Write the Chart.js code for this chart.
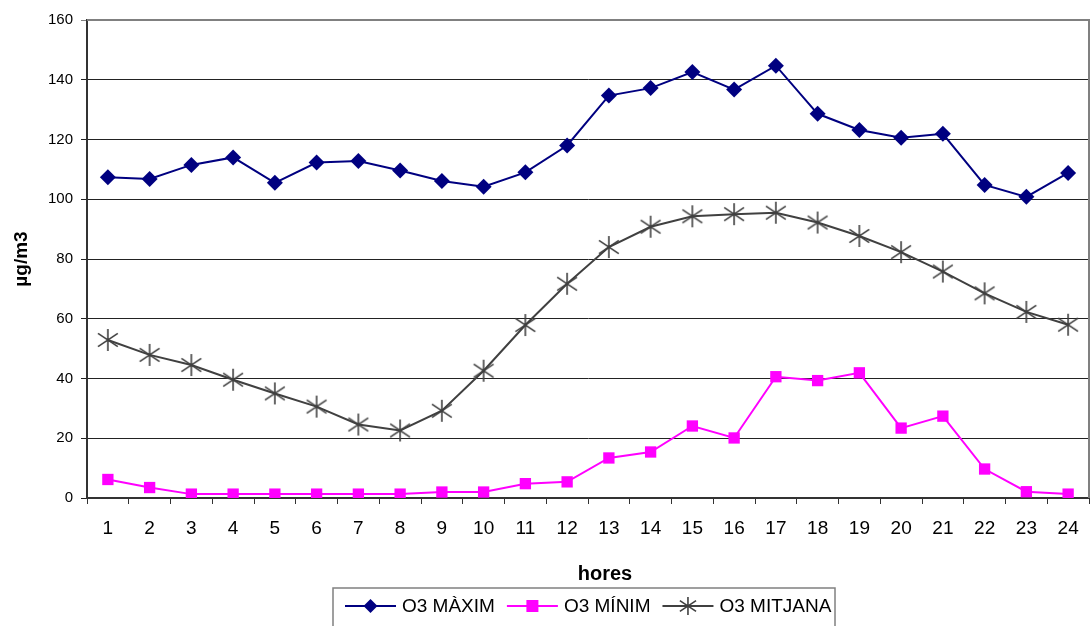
<!DOCTYPE html>
<html lang="ca">
<head>
  <meta charset="UTF-8">
  <title>O3 hores</title>
  <script src="https://cdn.jsdelivr.net/npm/chart.js"></script>
  <style>
    html, body { margin: 0; padding: 0; background: #fff; overflow: hidden; }
    #wrap { width: 1092px; height: 626px; position: relative; }
    canvas { display: block; }
  </style>
</head>
<body>
  <div id="wrap"><canvas id="o3Chart" width="1092" height="626"></canvas></div>

  <script>
    const hores = ['1','2','3','4','5','6','7','8','9','10','11','12','13','14','15','16','17','18','19','20','21','22','23','24'];
    const o3Maxim = [107.4, 106.8, 111.5, 114, 105.5, 112.3, 112.8, 109.6, 106.1, 104.2, 109, 118, 134.7, 137.2, 142.6, 136.7, 144.7, 128.6, 123.2, 120.6, 121.9, 104.8, 100.8, 108.8];
    const o3Minim = [6.2, 3.5, 1.3, 1.3, 1.3, 1.3, 1.3, 1.3, 2, 2, 4.8, 5.4, 13.4, 15.4, 24.1, 20.1, 40.6, 39.3, 41.9, 23.4, 27.4, 9.7, 2.1, 1.3];
    const o3Mitjana = [52.9, 47.9, 44.5, 39.6, 35, 30.6, 24.6, 22.6, 29.2, 42.6, 57.9, 71.7, 84, 90.8, 94.3, 95, 95.5, 92.2, 87.7, 82.3, 75.8, 68.5, 62.3, 58];
    const yTicks = [0, 20, 40, 60, 80, 100, 120, 140, 160];

    const FONT = "Arial, 'Liberation Sans', sans-serif";
    const NAVY = '#000080';
    const MAGENTA = '#ff00ff';
    const GREY = '#404040';

    // Excel style asterisk: vertical bar plus an X
    function drawStar(ctx, x, y, r) {
      ctx.save();
      ctx.strokeStyle = GREY;
      ctx.lineWidth = 1.6;
      ctx.beginPath();
      ctx.moveTo(x, y - r); ctx.lineTo(x, y + r);
      ctx.moveTo(x - r * 0.9, y - r * 0.6); ctx.lineTo(x + r * 0.9, y + r * 0.6);
      ctx.moveTo(x - r * 0.9, y + r * 0.6); ctx.lineTo(x + r * 0.9, y - r * 0.6);
      ctx.stroke();
      ctx.restore();
    }
    const starImg = document.createElement('canvas');
    starImg.width = 24; starImg.height = 24;
    drawStar(starImg.getContext('2d'), 12, 12, 11);

    function drawDiamond(ctx, x, y, r) {
      ctx.fillStyle = NAVY;
      ctx.beginPath();
      ctx.moveTo(x, y - r); ctx.lineTo(x + r, y); ctx.lineTo(x, y + r); ctx.lineTo(x - r, y);
      ctx.closePath(); ctx.fill();
    }
    function drawSquare(ctx, x, y, r) {
      ctx.fillStyle = MAGENTA;
      ctx.fillRect(x - r, y - r, r * 2, r * 2);
    }

    const series = [
      { label: 'O3 MÀXIM', data: o3Maxim, color: NAVY, style: 'rectRot', radius: 8, mark: drawDiamond, mr: 7 },
      { label: 'O3 MÍNIM', data: o3Minim, color: MAGENTA, style: 'rect', radius: 8, mark: drawSquare, mr: 6 },
      { label: 'O3 MITJANA', data: o3Mitjana, color: GREY, style: starImg, radius: 10, mark: drawStar, mr: 9 }
    ];

    // plot frame (grey top/right) drawn under the data
    const framePlugin = {
      id: 'frame',
      beforeDatasetsDraw(chart) {
        const { ctx, chartArea: a } = chart;
        ctx.save();
        ctx.strokeStyle = '#808080';
        ctx.lineWidth = 2;
        ctx.beginPath();
        ctx.moveTo(a.left, a.top);
        ctx.lineTo(a.right, a.top);
        ctx.lineTo(a.right, a.bottom);
        ctx.stroke();
        ctx.restore();
      }
    };

    // x title + legend box at the bottom, line + marker like the original
    const legendPlugin = {
      id: 'boxLegend',
      afterDraw(chart) {
        const ctx = chart.ctx;
        const a = chart.chartArea;
        ctx.save();
        ctx.font = 'bold 20px ' + FONT;
        ctx.textAlign = 'center';
        ctx.textBaseline = 'middle';
        ctx.fillStyle = '#000';
        ctx.fillText('hores', (a.left + a.right) / 2 + 17, 574);

        const boxL = 333, boxT = 588, boxR = 835;
        const cy = 606;
        ctx.strokeStyle = '#808080';
        ctx.lineWidth = 1.5;
        ctx.strokeRect(boxL, boxT, boxR - boxL, 60);
        ctx.font = '19px ' + FONT;
        ctx.textAlign = 'left';
        let x = 345;
        series.forEach(s => {
          ctx.strokeStyle = s.color;
          ctx.lineWidth = 2;
          ctx.beginPath();
          ctx.moveTo(x, cy); ctx.lineTo(x + 51, cy);
          ctx.stroke();
          s.mark(ctx, x + 25.5, cy, s.mr);
          ctx.fillStyle = '#000';
          ctx.fillText(s.label, x + 57, cy + 1);
          x += 57 + ctx.measureText(s.label).width + 12;
        });
        ctx.restore();
      }
    };

    new Chart(document.getElementById('o3Chart'), {
      type: 'line',
      data: {
        labels: hores,
        datasets: series.map(s => ({
          label: s.label,
          data: s.data,
          borderColor: s.color,
          backgroundColor: s.color,
          borderWidth: 2,
          pointStyle: s.style,
          pointRadius: s.radius,
          pointBorderWidth: 0,
          pointBackgroundColor: s.color,
          tension: 0
        }))
      },
      options: {
        responsive: false,
        animation: false,
        layout: { autoPadding: false, padding: { top: 20, right: 3, bottom: 0, left: 0 } },
        plugins: {
          legend: { display: false },
          tooltip: { enabled: false }
        },
        scales: {
          x: {
            offset: true,
            grid: { offset: true, drawOnChartArea: false, drawTicks: true, tickLength: 6, color: '#333', lineWidth: 1 },
            border: { color: '#333', width: 2 },
            ticks: { color: '#000', font: { family: FONT, size: 19 }, padding: 13, autoSkip: false, maxRotation: 0 },
            afterFit(scale) {
              scale.height = 128;
              scale.paddingLeft = 0;
              scale.paddingRight = 0;
            }
          },
          y: {
            min: 0,
            max: 160,
            afterBuildTicks(scale) { scale.ticks = yTicks.map(v => ({ value: v })); },
            grid: { color: ctx => ctx.tick.value === 160 ? '#808080' : '#222', lineWidth: 1, tickLength: 6 },
            border: { color: '#333', width: 2 },
            ticks: { color: '#000', font: { family: FONT, size: 15 }, padding: 8 },
            title: { display: true, text: 'µg/m3', color: '#000', font: { family: FONT, size: 19, weight: 'bold' }, padding: { top: 10, bottom: 0 } },
            afterFit(scale) { scale.width = 87; }
          }
        }
      },
      plugins: [framePlugin, legendPlugin]
    });
  </script>
</body>
</html>
